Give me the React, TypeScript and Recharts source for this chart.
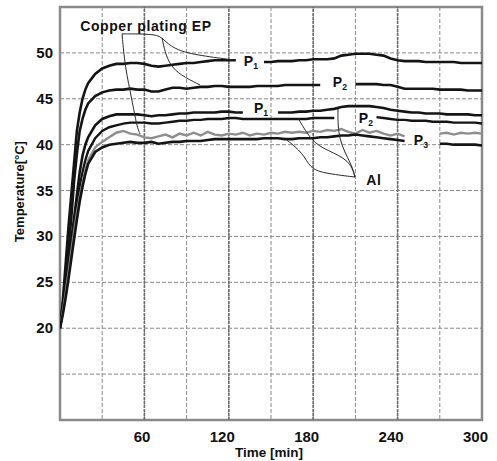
import React from 'react';
import {
  LineChart,
  Line,
  XAxis,
  YAxis,
  CartesianGrid,
  ReferenceLine,
  ReferenceArea,
  ReferenceDot,
} from 'recharts';

const FONT = '"Liberation Sans", Arial, Helvetica, sans-serif';

// time in minutes
const time = [
  0, 2, 4, 6, 8, 10, 12, 14, 16, 18, 20, 25, 30, 35, 40, 45, 50, 55,
  60, 65, 70, 75, 80, 85, 90, 95, 100, 105, 110, 115, 120, 125, 130, 135, 140, 145,
  150, 155, 160, 165, 170, 175, 180, 185, 190, 195, 200, 205, 210, 215, 220, 225,
  230, 235, 240, 245, 250, 255, 260, 265, 270, 275, 280, 285, 290, 295, 300,
];

// Copper plating EP
const cuP1 = [
  20, 23, 27, 31, 34.5, 38, 41.5, 43.5, 45, 46, 46.7,
  47.7, 48.3, 48.6, 48.8, 48.8, 48.9, 48.9,
  48.8, 48.6, 48.5, 48.6, 48.7, 48.8, 48.9, 48.9, 49.0, 49.1, 49.2, 49.2, 49.2, 49.2,
  null, null, null,
  49.0, 49.0, 49.1, 49.1, 49.1, 49.2, 49.2, 49.3, 49.3, 49.3, 49.4, 49.7, 49.8, 49.9, 49.9, 49.9,
  49.8, 49.7, 49.4, 49.2, 49.1, 49.1, 49.1, 49.0, 49.0, 49.0, 49.0, 49.0, 48.9, 48.9, 48.9, 48.9,
];
const cuP2 = [
  20, 22.5, 25.5, 28.5, 32, 36, 39, 41.5, 42.8, 43.8, 44.5,
  45.3, 45.7, 45.9, 46.0, 46.0, 46.1, 46.0,
  46.0, 45.8, 45.8, 46.0, 46.2, 46.2, 46.1, 46.2, 46.3, 46.3, 46.4, 46.4, 46.3, 46.3, 46.3,
  46.3, 46.4, 46.4, 46.4, 46.4, 46.5, 46.5, 46.5, 46.5, 46.5, 46.5,
  null, null, null, null,
  46.6, 46.6, 46.6, 46.6, 46.5, 46.5, 46.3, 46.1, 46.1, 46.1, 46.1, 46.1, 46.0, 46.0, 46.0,
  46.0, 45.9, 45.9, 45.9,
];
// Al
const alP1 = [
  20, 22, 24.5, 27, 29.5, 32, 34.5, 37, 38.8, 40, 40.8,
  42.1, 42.8, 43.1, 43.3, 43.3, 43.3, 43.3,
  43.2, 43.1, 43.2, 43.2, 43.3, 43.4, 43.4, 43.5, 43.5, 43.5, 43.5, 43.6, 43.6, 43.5, 43.5,
  null, null, null, null,
  43.5, 43.5, 43.5, 43.6, 43.6, 43.7, 43.7, 43.8, 43.9, 44.1, 44.2, 44.2, 44.2, 44.2, 44.1,
  44.0, 43.8, 43.7, 43.6, 43.5, 43.5, 43.4, 43.4, 43.4, 43.3, 43.3, 43.3, 43.3, 43.2, 43.2,
];
const alP2 = [
  20, 22, 24, 26.5, 29, 31.5, 33.5, 35.5, 37, 38.3, 39.3,
  40.7, 41.5, 41.9, 42.1, 42.3, 42.4, 42.4,
  42.4, 42.3, 42.3, 42.4, 42.5, 42.6, 42.6, 42.7, 42.7, 42.8, 42.8, 42.8, 42.9, 42.9, 42.8,
  42.8, 42.8, 42.8, 42.8, 42.8, 42.8, 42.8, 42.8, 42.8, 42.9, 42.9, 42.9, 42.9,
  null, null, null, null, null,
  43.0, 42.9, 42.8, 42.7, 42.7, 42.6, 42.6, 42.6, 42.5, 42.5, 42.5, 42.4, 42.4, 42.4, 42.4, 42.3,
];
const alP3a = [
  20, 21.8, 23.8, 26, 28.3, 30.5, 32.5, 34.3, 35.8, 37.2, 38.3,
  39.7, 40.3, 40.8, 41.3, 41.5, 41.2, 41.1,
  40.8, 40.7, 40.9, 41.1, 40.8, 41.2, 41.0, 41.3, 41.0, 41.4, 41.1, 41.0, 41.2, 41.1, 41.3,
  41.0, 41.2, 41.1, 41.3, 41.2, 41.4, 41.3, 41.4, 41.3, 41.5, 41.4, 41.6, 41.5, 41.7, 41.4,
  41.2, 41.6, 41.3, 41.5, 41.2, 41.0, 41.2, 40.9,
  null, null, null, null,
  41.2, 41.3, 41.1, 41.3, 41.2, 41.3, 41.2,
];
const alP3b = [
  20, 21.5, 23.3, 25.3, 27.5, 29.7, 31.8, 33.8, 35.4, 36.8, 37.9,
  39.2, 39.7, 40.0, 40.1, 40.2, 40.3, 40.2,
  40.2, 40.3, 40.1, 40.2, 40.3, 40.3, 40.4, 40.4, 40.4, 40.5, 40.6, 40.6, 40.6, 40.6, 40.6,
  40.6, 40.6, 40.7, 40.7, 40.7, 40.6, 40.6, 40.7, 40.7, 40.7, 40.8, 40.8, 40.9, 41.0, 41.0,
  41.1, 41.0, 40.9, 40.8, 40.7, 40.6, 40.5, 40.4,
  null, null, null, null,
  40.1, 40.1, 40.0, 40.0, 40.0, 40.0, 39.9,
];

const xTicks = [0, 30, 60, 90, 120, 150, 180, 210, 240, 270, 300];
const xLabels = [60, 120, 180, 240, 300];
const majorTimes = [60, 120, 180, 240];
const yTicks = [10, 15, 20, 25, 30, 35, 40, 45, 50, 55];
const yLabels = [20, 25, 30, 35, 40, 45, 50];

// callout strokes, [time, temperature]
const cuCallTop = [[44.1, 52.07], [67.5, 52.07], [72.5, 51.64], [76.8, 50.98], [83.2, 50.33], [95.9, 49.78], [122.9, 49.24]];
const cuCallLower = [[72.5, 51.64], [74.6, 50.11], [78.2, 48.69], [85.3, 47.6], [99.5, 46.5]];
const cuCallLeft = [[44.1, 52.07], [46.2, 48.47], [51.2, 44.87], [54.7, 41.93], [56.9, 41.16]];
const alCall1 = [[197.6, 43.9], [197.6, 40.5], [207.5, 37.8], [209.7, 36.47]];
const alCall2 = [[169.2, 42.9], [179.1, 40.3], [189.8, 39.4], [206.1, 38.3], [209.7, 36.47]];
const alCall3 = [[161.3, 40.5], [172.7, 39.1], [177.7, 37.45], [186.9, 36.9], [209.7, 36.47]];
const callouts = [cuCallTop, cuCallLower, cuCallLeft, alCall1, alCall2, alCall3];

const notes = [
  { t: 61.1, v: 52.95, text: 'Copper plating EP', sub: '', size: 14 },
  { t: 135.7, v: 49.13, text: 'P', sub: '1', size: 14 },
  { t: 199, v: 46.84, text: 'P', sub: '2', size: 14 },
  { t: 142.9, v: 44.0, text: 'P', sub: '1', size: 14 },
  { t: 217.5, v: 42.9, text: 'P', sub: '2', size: 14 },
  { t: 256.6, v: 40.5, text: 'P', sub: '3', size: 14 },
  { t: 223.2, v: 36.15, text: 'Al', sub: '', size: 14 },
];

const series = [
  { key: 'cuP1', values: cuP1, color: '#141414', width: 2.6 },
  { key: 'cuP2', values: cuP2, color: '#141414', width: 2.6 },
  { key: 'alP1', values: alP1, color: '#141414', width: 2.6 },
  { key: 'alP2', values: alP2, color: '#141414', width: 2.4 },
  { key: 'alP3a', values: alP3a, color: '#8e8e8e', width: 2.4 },
  { key: 'alP3b', values: alP3b, color: '#141414', width: 2.6 },
];

const rows = time.map((t, i) => {
  const r: Record<string, number | null> = { t };
  series.forEach((s) => (r[s.key] = s.values[i]));
  return r;
});

const XTick = (p: any) => {
  const v = p.payload.value;
  if (!xLabels.includes(v)) return <g />;
  return (
    <text x={p.x + 6} y={p.y + 22} textAnchor="end" fontFamily={FONT} fontWeight="bold" fontSize={15} fill="#111">
      {v}
    </text>
  );
};

const YTick = (p: any) => {
  const v = p.payload.value;
  if (!yLabels.includes(v)) return <g />;
  return (
    <text x={p.x - 7} y={p.y + 5} textAnchor="end" fontFamily={FONT} fontWeight="bold" fontSize={15} fill="#111">
      {v}
    </text>
  );
};

const noteLabel = (n: (typeof notes)[number]) => (p: any) => {
  const vb = p.viewBox || { x: p.x, y: p.y, width: 0, height: 0 };
  const cx = vb.x + (vb.width || 0) / 2;
  const cy = vb.y + (vb.height || 0) / 2;
  return (
    <text
      x={cx}
      y={cy + n.size * 0.36}
      textAnchor="middle"
      fontFamily={FONT}
      fontWeight="bold"
      fontSize={n.size}
      letterSpacing={n.sub ? 0 : 0.6}
      fill="#111"
    >
      {n.text}
      {n.sub ? (
        <tspan fontSize={n.size * 0.62} dy={3}>
          {n.sub}
        </tspan>
      ) : null}
    </text>
  );
};

const yTitle = (p: any) => {
  const vb = p.viewBox || { x: 8, y: 7, width: 52, height: 413 };
  const x = vb.x + 12;
  const y = vb.y + vb.height * 0.447;
  return (
    <text
      x={x}
      y={y}
      transform={`rotate(-90 ${x} ${y})`}
      textAnchor="middle"
      dominantBaseline="central"
      fontFamily={FONT}
      fontWeight="bold"
      fontSize={13}
      fill="#111"
    >
      Temperature[°C]
    </text>
  );
};

const xTitle = (p: any) => {
  const vb = p.viewBox || { x: 60, y: 420, width: 422, height: 41 };
  return (
    <text
      x={vb.x + vb.width * 0.495}
      y={vb.y + vb.height - 4}
      textAnchor="middle"
      fontFamily={FONT}
      fontWeight="bold"
      fontSize={13.5}
      fill="#111"
    >
      Time [min]
    </text>
  );
};

export default function App() {
  return (
    <div style={{ position: 'absolute', left: 0, top: 0, width: 497, height: 461, background: '#fff' }}>
      <LineChart width={497} height={461} data={rows} margin={{ top: 7, right: 15, bottom: 0, left: 8 }}>
        <CartesianGrid stroke="#8a8a8a" strokeDasharray="4 2" strokeWidth={1} />
        <XAxis
          dataKey="t"
          type="number"
          domain={[0, 300]}
          ticks={xTicks}
          interval={0}
          tick={XTick}
          tickLine={false}
          axisLine={false}
          tickSize={0}
          tickMargin={0}
          height={41}
          allowDataOverflow
          label={xTitle}
        />
        <YAxis
          type="number"
          domain={[10, 55]}
          ticks={yTicks}
          interval={0}
          tick={YTick}
          tickLine={false}
          axisLine={false}
          tickSize={0}
          tickMargin={0}
          width={52}
          allowDataOverflow
          label={yTitle}
        />
        {majorTimes.map((t) => (
          <ReferenceLine key={t} x={t} stroke="#6e6e6e" strokeWidth={1.6} strokeDasharray="3 1" />
        ))}
        <ReferenceArea x1={0} x2={300} y1={10} y2={55} fill="none" fillOpacity={0} stroke="#8a8a8a" strokeWidth={2.5} />
        {series.map((s) => (
          <Line
            key={s.key}
            dataKey={s.key}
            type="linear"
            stroke={s.color}
            strokeWidth={s.width}
            dot={false}
            activeDot={false}
            connectNulls={false}
            isAnimationActive={false}
          />
        ))}
        {callouts.map((c, i) => (
          <Line
            key={`call-${i}`}
            data={c.map(([t, v]) => ({ t, v }))}
            dataKey="v"
            type="basis"
            stroke="#2a2a2a"
            strokeWidth={1}
            dot={false}
            activeDot={false}
            isAnimationActive={false}
          />
        ))}
        {notes.map((n, i) => (
          <ReferenceDot key={`note-${i}`} x={n.t} y={n.v} r={1} fill="none" stroke="none" label={noteLabel(n)} />
        ))}
      </LineChart>
    </div>
  );
}
